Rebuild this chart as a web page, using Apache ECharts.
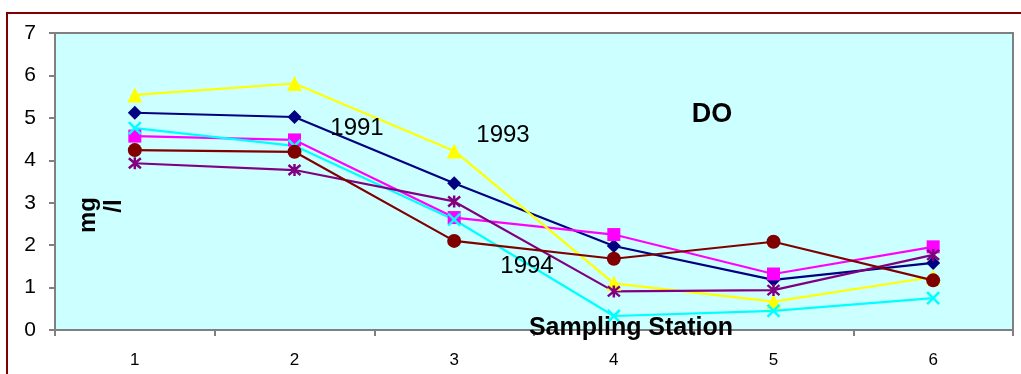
<!DOCTYPE html>
<html>
<head>
<meta charset="utf-8">
<script src="https://cdn.jsdelivr.net/npm/echarts@6/dist/echarts.min.js"></script>
<style>
  html, body { margin: 0; padding: 0; background: #ffffff; }
  #chart { width: 1021px; height: 374px; }
</style>
</head>
<body>
<div id="chart"></div>
<script>
// Dissolved oxygen (mg/l) at six sampling stations, one line per year
const stations = ['1', '2', '3', '4', '5', '6'];
const do1991 = [5.12, 5.02, 3.46, 1.98, 1.18, 1.58];
const do1992 = [4.57, 4.48, 2.65, 2.25, 1.32, 1.96];
const do1993 = [5.54, 5.81, 4.22, 1.10, 0.67, 1.25];
const do1994 = [4.76, 4.34, 2.60, 0.33, 0.45, 0.75];
const do1995 = [3.93, 3.77, 3.03, 0.91, 0.94, 1.77];
const do1996 = [4.24, 4.20, 2.10, 1.68, 2.08, 1.17];
const yTicks = [0, 1, 2, 3, 4, 5, 6, 7];

const FONT = '"Liberation Sans", Arial, sans-serif';
const CROSS = 'path://M0 0 L10 10 M10 0 L0 10';
const ASTERISK = 'path://M0 0 L10 10 M10 0 L0 10 M5 -1 L5 11';

function line(name, data, color, symbol, size, stroked) {
  return {
    name: name,
    type: 'line',
    data: data,
    symbol: symbol,
    symbolSize: size,
    showSymbol: true,
    animation: false,
    lineStyle: { color: color, width: 2.2 },
    itemStyle: stroked
      ? { color: color, borderColor: color, borderWidth: 2.5 }
      : { color: color, borderWidth: 0 },
    emphasis: { disabled: true }
  };
}

const chart = echarts.init(document.getElementById('chart'), null, { renderer: 'canvas' });
chart.setOption({
  animation: false,
  backgroundColor: '#ffffff',
  grid: {
    left: 55, right: 8, top: 33, bottom: 44,
    show: true,
    backgroundColor: '#CCFFFF',
    borderColor: '#808080',
    borderWidth: 2
  },
  xAxis: {
    type: 'category',
    data: stations,
    boundaryGap: true,
    axisLine: { lineStyle: { color: '#808080', width: 2 } },
    axisTick: { show: true, length: 6, lineStyle: { color: '#808080', width: 2 } },
    axisLabel: { color: '#000000', fontFamily: FONT, fontSize: 17, margin: 22 },
    splitLine: { show: false }
  },
  yAxis: {
    type: 'value',
    min: yTicks[0],
    max: yTicks[yTicks.length - 1],
    interval: 1,
    axisLine: { show: true, lineStyle: { color: '#808080', width: 2 } },
    axisTick: { show: true, length: 6, lineStyle: { color: '#808080', width: 2 } },
    axisLabel: { color: '#000000', fontFamily: FONT, fontSize: 21, margin: 19 },
    splitLine: { show: false }
  },
  series: [
    line('1991', do1991, '#000080', 'diamond', 14, false),
    line('1992', do1992, '#FF00FF', 'rect', 13, false),
    line('1993', do1993, '#FFFF00', 'triangle', 15, false),
    line('1994', do1994, '#00FFFF', CROSS, 12, true),
    line('1995', do1995, '#800080', ASTERISK, 12, true),
    line('1996', do1996, '#800000', 'circle', 14, false)
  ],
  graphic: [
    {
      type: 'rect', silent: true, z: 100,
      shape: { x: 7, y: 13, width: 1100, height: 500 },
      style: { fill: 'none', stroke: '#800000', lineWidth: 2 }
    },
    { type: 'text', x: 357, y: 128, z: 50,
      style: { text: '1991', font: '24px ' + FONT, fill: '#000000', textAlign: 'center', textVerticalAlign: 'middle' } },
    { type: 'text', x: 503, y: 135, z: 50,
      style: { text: '1993', font: '24px ' + FONT, fill: '#000000', textAlign: 'center', textVerticalAlign: 'middle' } },
    { type: 'text', x: 527, y: 266, z: 50,
      style: { text: '1994', font: '24px ' + FONT, fill: '#000000', textAlign: 'center', textVerticalAlign: 'middle' } },
    { type: 'text', x: 712, y: 115, z: 50,
      style: { text: 'DO', font: 'bold 27px ' + FONT, fill: '#000000', textAlign: 'center', textVerticalAlign: 'middle' } },
    { type: 'text', x: 631, y: 328, z: 50,
      style: { text: 'Sampling Station', font: 'bold 25px ' + FONT, fill: '#000000', textAlign: 'center', textVerticalAlign: 'middle' } },
    { type: 'text', x: 88, y: 215, rotation: Math.PI / 2, z: 50,
      style: { text: 'mg', font: 'bold 24px ' + FONT, fill: '#000000', textAlign: 'center', textVerticalAlign: 'middle' } },
    { type: 'text', x: 114, y: 206, rotation: Math.PI / 2, z: 50,
      style: { text: '/l', font: 'bold 24px ' + FONT, fill: '#000000', textAlign: 'center', textVerticalAlign: 'middle' } }
  ]
});
</script>
</body>
</html>
